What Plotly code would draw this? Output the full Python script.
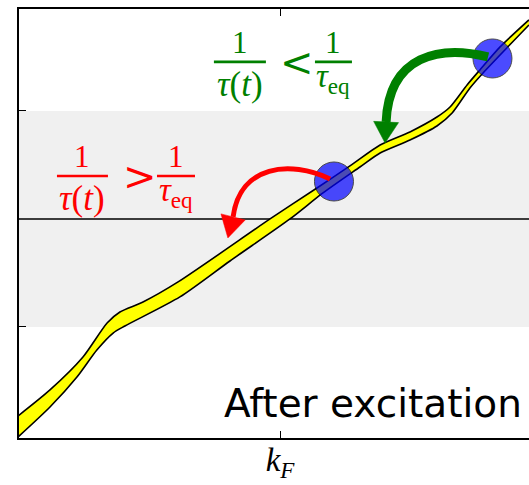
import math
import plotly.graph_objects as go

# ---- band of occupied states: k measured from k_F, energy from E_F ----
k_lower = [-1.000, -0.878, -0.775, -0.699, -0.637, -0.592, -0.382, -0.191, 0.038,
           0.164, 0.305, 0.382, 0.496, 0.599, 0.657, 0.725, 0.775, 0.950]
e_lower = [-2.019, -1.741, -1.463, -1.213, -1.056, -0.991, -0.722, -0.389, 0.000,
           0.241, 0.481, 0.611, 0.731, 0.861, 0.981, 1.213, 1.352, 1.796]
k_upper = [-1.000, -0.878, -0.752, -0.660, -0.611, -0.523, -0.389, -0.038, 0.141,
           0.267, 0.382, 0.496, 0.599, 0.649, 0.714, 0.763, 0.840, 0.950]
e_upper = [-1.824, -1.583, -1.278, -0.963, -0.861, -0.769, -0.583, 0.000, 0.287,
           0.491, 0.685, 0.806, 0.944, 1.037, 1.241, 1.380, 1.593, 1.843]

# ---- excited electrons ----
dot_k = [0.206, 0.811]
dot_e = [0.347, 1.486]

# ---- relaxation arrows: start, control 1, control 2, end of shaft, tip ----
red_arrow = [(0.191, 0.370), (0.038, 0.546), (-0.153, 0.500), (-0.179, 0.019), (-0.199, -0.176)]
green_arrow = [(0.794, 1.500), (0.611, 1.611), (0.416, 1.519), (0.405, 0.898), (0.401, 0.704)]

# ---- axes ----
X_RANGE = [-0.9962, 0.9504]
Y_RANGE = [-2.028, 1.944]
ML, MT, MB, MR = 19, 9, 47, 0
FIG_W, FIG_H = 529, 485
PLOT_W = FIG_W - ML - MR
PLOT_H = FIG_H - MT - MB
SX = PLOT_W / (X_RANGE[1] - X_RANGE[0])
SY = PLOT_H / (Y_RANGE[1] - Y_RANGE[0])

GREEN = "#008000"
RED = "#ff0000"
MATH_FONT = "Liberation Serif"

fig = go.Figure()

# shaded window |E - E_F| < 1 and the Fermi level, drawn as filled traces
win_k = [X_RANGE[0] - 0.1, X_RANGE[1] + 0.1]
fig.add_trace(go.Scatter(x=win_k, y=[-1, -1], mode="lines", line=dict(width=0),
                         hoverinfo="skip", showlegend=False))
fig.add_trace(go.Scatter(x=win_k, y=[1, 1], mode="lines", line=dict(width=0),
                         fill="tonexty", fillcolor="#f0f0f0",
                         hoverinfo="skip", showlegend=False))
fig.add_trace(go.Scatter(x=win_k, y=[0, 0], mode="lines",
                         line=dict(color="black", width=1.5),
                         hoverinfo="skip", showlegend=False))

fig.add_trace(go.Scatter(
    x=k_lower, y=e_lower, mode="lines",
    line=dict(color="black", width=1.6, shape="spline", smoothing=0.7),
    hoverinfo="skip", showlegend=False))
fig.add_trace(go.Scatter(
    x=k_upper, y=e_upper, mode="lines", fill="tonexty", fillcolor="#ffff00",
    line=dict(color="black", width=1.6, shape="spline", smoothing=0.7),
    hoverinfo="skip", showlegend=False))
fig.add_trace(go.Scatter(
    x=dot_k, y=dot_e, mode="markers",
    marker=dict(size=39, color="blue", opacity=0.7,
                line=dict(color="black", width=1)),
    hoverinfo="skip", showlegend=False))

shapes = []


def arrow_shapes(pts, color, width, half_head):
    (x0, y0), (x1, y1), (x2, y2), (xe, ye), (xt, yt) = pts
    shaft = dict(type="path", xref="x", yref="y",
                 path=f"M {x0},{y0} C {x1},{y1} {x2},{y2} {xe},{ye}",
                 line=dict(color=color, width=width))
    dx, dy = (xt - xe) * SX, (yt - ye) * SY
    n = math.hypot(dx, dy)
    nx, ny = -dy / n, dx / n
    ax, ay = xe + nx * half_head / SX, ye + ny * half_head / SY
    bx, by = xe - nx * half_head / SX, ye - ny * half_head / SY
    head = dict(type="path", xref="x", yref="y",
                path=f"M {xt},{yt} L {ax},{ay} L {bx},{by} Z",
                fillcolor=color, line=dict(color=color, width=0.5))
    return [shaft, head]


shapes += arrow_shapes(red_arrow, RED, 5, 12.5)
shapes += arrow_shapes(green_arrow, GREEN, 9, 12.5)

annotations = []


def fraction(xc, ybar, half_w, num, den, color, den_shift, den_size):
    shapes.append(dict(type="line", xref="x", yref="y",
                       x0=xc - half_w / SX, x1=xc + half_w / SX, y0=ybar, y1=ybar,
                       line=dict(color=color, width=2.6)))
    annotations.append(dict(x=xc, y=ybar, xref="x", yref="y", text=num,
                            showarrow=False, yanchor="bottom", yshift=0,
                            font=dict(family=MATH_FONT, size=31, color=color)))
    annotations.append(dict(x=xc, y=ybar, xref="x", yref="y", text=den,
                            showarrow=False, yanchor="top", yshift=den_shift,
                            font=dict(family=MATH_FONT, size=den_size, color=color)))


def relation(xc, ybar, sym, color):
    annotations.append(dict(x=xc, y=ybar, xref="x", yref="y", text=sym,
                            showarrow=False, yanchor="middle",
                            font=dict(family="DejaVu Serif", size=40, color=color)))


TAU_T = "<i>τ</i>(<i>t</i>)"
TAU_EQ = "<i>τ</i><sub>eq</sub>"

# slower relaxation above the window
fraction(-0.153, 1.454, 26, "1", TAU_T, GREEN, -1, 35)
relation(0.066, 1.454, "&lt;", GREEN)
fraction(0.204, 1.454, 18.5, "1", TAU_EQ, GREEN, 6, 33)

# faster relaxation inside the window
fraction(-0.754, 0.398, 25.5, "1", TAU_T, RED, -1, 35)
relation(-0.534, 0.398, "&gt;", RED)
fraction(-0.397, 0.398, 19, "1", TAU_EQ, RED, 6, 33)

annotations.append(dict(x=0.931, y=-1.708, xref="x", yref="y",
                        text="After excitation", showarrow=False,
                        xanchor="right", yanchor="middle",
                        font=dict(family="DejaVu Sans", size=39, color="black")))

fig.update_layout(
    width=FIG_W, height=FIG_H,
    margin=dict(l=ML, r=MR, t=MT, b=MB, pad=0, autoexpand=False),
    paper_bgcolor="white", plot_bgcolor="white",
    shapes=shapes, annotations=annotations,
    showlegend=False, dragmode=False,
)
fig.update_xaxes(range=X_RANGE, showgrid=False, zeroline=False, automargin=False,
                 showline=True, linecolor="black", linewidth=2, mirror="ticks",
                 fixedrange=True,
                 ticks="inside", ticklen=7, tickwidth=1, tickcolor="black",
                 tickvals=[0], ticktext=["<i>k</i><sub><i>F</i></sub>"],
                 ticklabelstandoff=-9,
                 tickfont=dict(family=MATH_FONT, size=33, color="black"))
fig.update_yaxes(range=Y_RANGE, showgrid=False, zeroline=False, automargin=False,
                 showline=True, linecolor="black", linewidth=2, mirror=False,
                 fixedrange=True,
                 ticks="inside", ticklen=7, tickwidth=1, tickcolor="black",
                 tickvals=[-1, 1], showticklabels=False)

fig.write_html("out.html", config={"staticPlot": True, "displayModeBar": False})
